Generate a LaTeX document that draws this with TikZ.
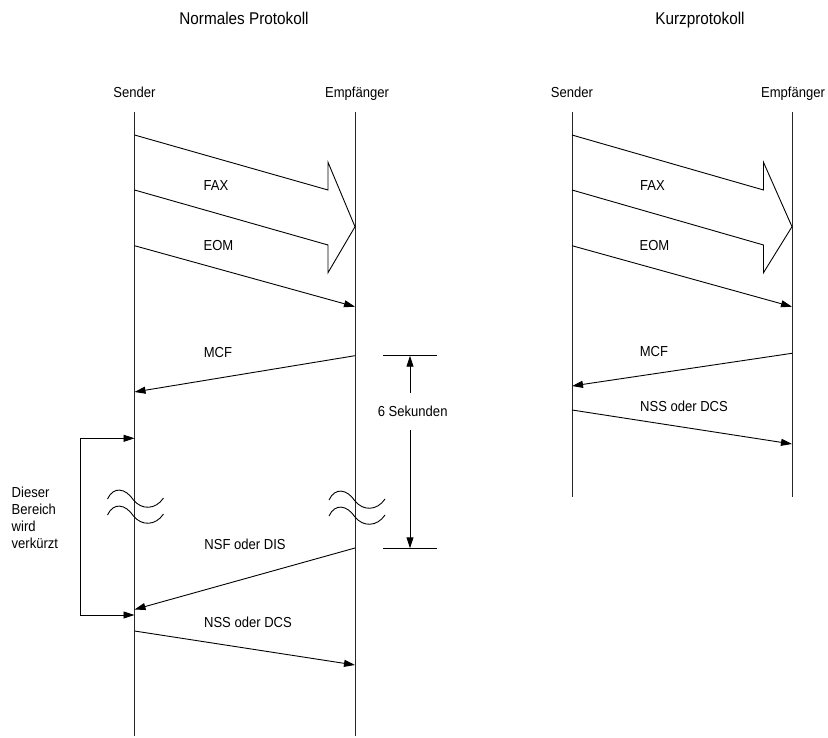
\documentclass[tikz,border=0pt]{standalone}
\usepackage{fontspec}
\setmainfont{Liberation Sans}[FakeStretch=0.9]
\usetikzlibrary{arrows.meta}
\tikzset{
  lbl/.style={font=\fontsize{14.5}{17}\selectfont, anchor=base, inner sep=0pt},
  ttl/.style={font=\fontsize{17}{20}\selectfont, anchor=base, inner sep=0pt},
  life/.style={line width=1pt, draw=black!85},
  msg/.style={line width=0.9pt, -{Triangle[length=11pt,width=7pt]}},
  thin/.style={line width=0.9pt},
  wave/.pic={\draw[thin] (-26,-1) .. controls (-20,-14) and (-8,-12) .. (0,0) .. controls (8,10) and (22,10) .. (30,-2);}
}
\begin{document}
\begin{tikzpicture}[x=1pt,y=-1pt]
\useasboundingbox (0,0) rectangle (828,738);
% titles
\node[ttl] (t1) at (244,25) {Normales Protokoll};
\node[ttl] (t2) at (700,25) {Kurzprotokoll};
% ---------------- left diagram ----------------
\node[lbl] (s1) at (134.5,98) {Sender};
\node[lbl] (e1) at (357,98) {Empfänger};
\coordinate (s1top) at (134.5,112); \coordinate (s1bot) at (134.5,736);
\coordinate (e1top) at (355,112);   \coordinate (e1bot) at (355,736);
\draw[life] (s1top) -- (s1bot);
\draw[life] (e1top) -- (e1bot);
% big arrow
\draw[thin,line join=miter] (134.5,135) -- (328,190) -- (328,162.3) -- (355,226.7) -- (328,272.7) -- (328,245) -- (134.5,190);
\node[lbl] (fax1) at (216,190.5) {FAX};
\node[lbl] (eom1) at (218.5,250.5) {EOM};
% messages
\coordinate (a1) at (134.5,245.7); \coordinate (b1) at (355,306.7);
\draw[msg] (a1) -- (b1);
\coordinate (a2) at (355,355.7); \coordinate (b2) at (134.5,392);
\draw[msg] (a2) -- (b2);
\node[lbl] (mcf1) at (218,357) {MCF};
\coordinate (a3) at (355,548); \coordinate (b3) at (134.5,609.5);
\draw[msg] (a3) -- (b3);
\node[lbl] (nsf1) at (245,549) {NSF oder DIS};
\coordinate (a4) at (134.5,631); \coordinate (b4) at (355,665);
\draw[msg] (a4) -- (b4);
\node[lbl] (nss1) at (248,627) {NSS oder DCS};
% waves
\pic at (133.5,500) {wave};
\pic at (133.5,516) {wave};
\pic at (355,501) {wave};
\pic at (355,517) {wave};
% bracket
\coordinate (br1) at (134.5,438.3); \coordinate (br2) at (134.5,615);
\coordinate (bl1) at (80,438.3); \coordinate (bl2) at (80,615);
\draw[msg] (bl1) -- (br1);
\draw[msg] (bl2) -- (br2);
\draw[thin] (bl1) -- (bl2);
\node[lbl,anchor=base west,align=left] (dieser) at (11.5,497) {Dieser};
\node[lbl,anchor=base west] (bereich) at (11.5,514.3) {Bereich};
\node[lbl,anchor=base west] (wird) at (11.5,531.3) {wird};
\node[lbl,anchor=base west] (verk) at (11.5,548.3) {verkürzt};
% 6 Sekunden dimension
\coordinate (d1l) at (383,355.7); \coordinate (d1r) at (437,355.7);
\coordinate (d2l) at (383,548.3); \coordinate (d2r) at (437,548.3);
\draw[thin] (d1l) -- (d1r);
\draw[thin] (d2l) -- (d2r);
\node[lbl] (sek) at (412.7,416) {6 Sekunden};
\coordinate (dv1) at (410,393); \coordinate (dv2) at (410,430);
\draw[msg] (dv1) -- (410,355.7);
\draw[msg] (dv2) -- (410,548.3);
% ---------------- right diagram ----------------
\node[lbl] (s2) at (572,98) {Sender};
\node[lbl] (e2) at (793,98) {Empfänger};
\coordinate (s2top) at (572,112); \coordinate (s2bot) at (572,497);
\coordinate (e2top) at (792,112); \coordinate (e2bot) at (792,497);
\draw[life] (s2top) -- (s2bot);
\draw[life] (e2top) -- (e2bot);
\draw[thin,line join=miter] (572,135) -- (763.5,190) -- (763.5,162.3) -- (792,226.7) -- (763.5,272.7) -- (763.5,245) -- (572,190);
\node[lbl] (fax2) at (652.5,190.5) {FAX};
\node[lbl] (eom2) at (654.5,250.5) {EOM};
\coordinate (c1) at (572,245.7); \coordinate (d1) at (792,306.7);
\draw[msg] (c1) -- (d1);
\coordinate (c2) at (792,353.3); \coordinate (d2) at (572,386);
\draw[msg] (c2) -- (d2);
\node[lbl] (mcf2) at (654,356) {MCF};
\coordinate (c3) at (572,410); \coordinate (d3) at (792,444);
\draw[msg] (c3) -- (d3);
\node[lbl] (nss2) at (684,411.5) {NSS oder DCS};
\end{tikzpicture}
\end{document}
